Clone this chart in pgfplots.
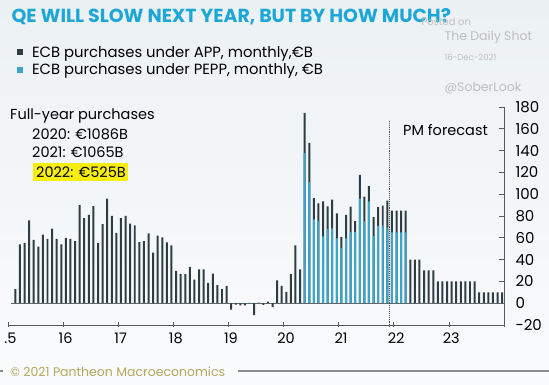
\documentclass[border=0pt]{standalone}
\usepackage{fontspec}
\setmainfont{Poppins}
\usepackage{pgfplots}
\pgfplotsset{compat=1.18}
\usepackage{pgfplotstable}
\definecolor{appc}{HTML}{2E3D42}
\definecolor{peppc}{HTML}{3BA5CC}
\definecolor{titlec}{HTML}{1DA6D8}
\definecolor{wm}{HTML}{BEBEBE}
\definecolor{foot}{HTML}{B2A85C}
\definecolor{hl}{HTML}{F7EE10}
\pgfplotstableread{
k total pepp
0 13 0
1 54 0
2 55 0
3 76 0
4 58 0
5 52 0
6 63 0
7 59 0
8 68.5 0
9 59 0
10 54 0
11 60 0
12 59 0
13 57 0
14 90 0
15 78 0
16 81 0
17 89 0
18 55 0
19 72.5 0
20 96 0
21 80 0
22 64.5 0
23 78 0
24 80 0
25 73 0
26 71.5 0
27 56 0
28 57 0
29 64 0
30 46.5 0
31 62 0
32 60.5 0
33 55.7 0
34 53 0
35 29.7 0
36 27 0
37 26.6 0
38 33.3 0
39 21.7 0
40 31 0
41 31 0
42 18.6 0
43 27.2 0
44 16.5 0
45 12.8 0
46 15.9 0
47 -6 0
48 -1.2 0
49 -2 0
50 -2 0
51 0.3 0
52 -11 0
53 0.5 0
54 -1.5 0
55 1.5 0
56 -3.7 0
57 21 0
58 16 0
59 10.4 0
60 26.6 0
61 53 0
62 31 0
63 174.5 137.6
64 147 111
65 96.5 77
66 91.5 75.3
67 93.4 61.3
68 88.8 68
69 95 68.7
70 82.3 59.5
71 60.8 50.8
72 81 59.5
73 88.7 65.5
74 75.3 65.5
75 117.7 96
76 97.8 75
77 107.5 93.5
78 79 61.5
79 88.2 71
80 89.5 71.5
81 94 69.4
82 85 65
83 85 65
84 85 65
85 85 65
86 40 0
87 40 0
88 40 0
89 30 0
90 30 0
91 30 0
92 20 0
93 20 0
94 20 0
95 20 0
96 20 0
97 20 0
98 20 0
99 20 0
100 20 0
101 10 0
102 10 0
103 10 0
104 10 0
105 10 0
106 10 0
}\data
\begin{document}
\begin{tikzpicture}[x=1pt,y=1pt]
\shade[top color={rgb,255:red,236;green,241;blue,244}, bottom color={rgb,255:red,250;green,251;blue,252}] (0,0) rectangle (549,385);
\useasboundingbox (0,0) rectangle (549,385);
\begin{axis}[
  at={(8pt,60pt)}, anchor=south west,
  scale only axis, width=496pt, height=218pt,
  xmin=2015, xmax=2024, ymin=-20, ymax=180,
  axis x line*=bottom, axis y line*=right,
  axis line style={draw=black!65, line width=0.7pt},
  xtick={2015,...,2024},
  xticklabels={.5,16,17,18,19,20,21,22,23,},
  minor x tick num=1,
  xtick align=center, ytick align=inside,
  major tick length=5pt, minor tick length=3pt,
  tick style={draw=black!65, line width=0.6pt},
  ytick={-20,0,20,...,180},
  yticklabels={-20,0,20,40,60,80,100,120,140,160,180},
  x tick label style={font=\fontsize{14.5}{16}\selectfont, xshift=2.5pt, yshift=-2pt},
  y tick label style={font=\fontsize{15}{17}\selectfont, xshift=8pt},
  clip=false,
  legend style={at={(0.018,1.289)}, anchor=north west, draw=none, fill=none,
     font=\fontsize{14.8}{16}\selectfont, row sep=1pt, inner sep=0pt,
     /tikz/every odd column/.append style={column sep=7pt}},
  legend cell align=left,
  legend image code/.code={\fill[#1] (0pt,-3pt) rectangle (6pt,3pt);},
]
\draw[black!60, line width=0.6pt] (axis cs:2015.05,0) -- (axis cs:2024,0);
\addplot[ybar, bar width=0.036, bar shift=0pt, fill=appc, draw=none]
  table[x expr={2015+(\thisrow{k}+1.6)/12}, y=total]{\data};
\addlegendentry{ECB purchases under APP, monthly,€B}
\addplot[ybar, bar width=0.036, bar shift=0pt, fill=peppc, draw=none]
  table[x expr={2015+(\thisrow{k}+1.6)/12}, y=pepp]{\data};
\addlegendentry{ECB purchases under PEPP, monthly, €B}
\draw[black!70, densely dotted, line width=0.9pt] (axis cs:2021.925,-22) -- (axis cs:2021.925,168);
\end{axis}
% title and annotations
\node[anchor=west, text=titlec, font=\fontsize{18.9}{20}\selectfont\bfseries] at (8,368) {QE WILL SLOW NEXT YEAR, BUT BY HOW MUCH?};
\node[anchor=west, text=wm, font=\fontsize{10}{12}\selectfont] at (418,363) {Posted on};
\node[anchor=west, text=wm, font=\fontsize{12.5}{14}\selectfont] at (441,348) {The Daily Shot};
\node[anchor=west, text=wm, font=\fontsize{8.5}{10}\selectfont] at (441,328) {16-Dec-2021};
\node[anchor=west, text=wm, font=\fontsize{12.5}{14}\selectfont] at (441,297) {@SoberLook};
\node[anchor=west, font=\fontsize{14.5}{16}\selectfont, inner sep=0pt] at (10,269) {Full-year purchases};
\node[anchor=west, font=\fontsize{14.5}{16}\selectfont, inner sep=0pt] at (32,251) {2020: €1086B};
\node[anchor=west, font=\fontsize{14.5}{16}\selectfont, inner sep=0pt] at (32,233) {2021: €1065B};
\fill[hl] (33,204) rectangle (128,222);
\node[anchor=west, font=\fontsize{14.5}{16}\selectfont, inner sep=0pt] at (36,213) {2022: €525B};
\node[anchor=west, font=\fontsize{14.5}{16}\selectfont, inner sep=0pt] at (403,255) {PM forecast};
\node[anchor=west, text=foot, font=\fontsize{12.5}{14}\selectfont, inner sep=0pt] at (10,13) {© 2021 Pantheon Macroeconomics};
\draw[black!45, line width=1.2pt] (238,14) -- (549,14);
\draw[black!45, line width=1.2pt] (0,14) -- (3,14);
\end{tikzpicture}
\end{document}
